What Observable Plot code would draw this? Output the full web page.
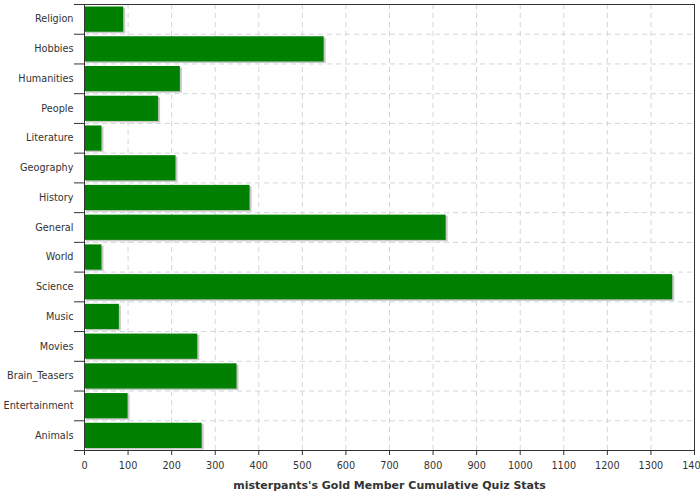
<!DOCTYPE html>
<html>
<head>
<meta charset="utf-8">
<script src="https://cdn.jsdelivr.net/npm/d3@7"></script>
<script src="https://cdn.jsdelivr.net/npm/@observablehq/plot@0.6"></script>
<style>
  html, body { margin: 0; padding: 0; background: white; }
</style>
</head>
<body>
<div id="chart"></div>
<script>
const categories = ["Religion", "Hobbies", "Humanities", "People", "Literature", "Geography", "History", "General", "World", "Science", "Music", "Movies", "Brain_Teasers", "Entertainment", "Animals"];
const values = [90, 550, 220, 170, 40, 210, 380, 830, 40, 1350, 80, 260, 350, 100, 270];
const xTicks = [0, 100, 200, 300, 400, 500, 600, 700, 800, 900, 1000, 1100, 1200, 1300, 1400];
const title = "misterpants's Gold Member Cumulative Quiz Stats";

const data = categories.map((c, i) => ({category: c, value: values[i], i}));
const n = categories.length;
const boundaries = d3.range(n + 1);
const centers = d3.range(n).map(i => i + 0.5);

const gridColor = "#cfd7dc";
const axisColor = "#333";

const chart = Plot.plot({
  width: 700,
  height: 500,
  marginLeft: 84,
  marginRight: 6,
  marginTop: 4,
  marginBottom: 50,
  style: {fontFamily: "DejaVu Sans", fontSize: "9.7px", color: "#333", background: "white"},
  x: {domain: [0, 1400]},
  y: {domain: [0, n], reverse: true},
  marks: [
    Plot.gridX(xTicks, {stroke: gridColor, strokeOpacity: 1, strokeDasharray: "5,4"}),
    Plot.gridY(boundaries, {stroke: gridColor, strokeOpacity: 1, strokeDasharray: "5,4"}),
    Plot.rect(data, {x1: 0, x2: "value", y1: "i", y2: d => d.i + 1, insetTop: 2.5, insetBottom: 2, fill: "#c8c8c8", dx: 2, dy: 1.5}),
    Plot.rect(data, {x1: 0, x2: "value", y1: "i", y2: d => d.i + 1, insetTop: 2.5, insetBottom: 2, fill: "#008000"}),
    Plot.frame({stroke: axisColor}),
    Plot.axisX({ticks: xTicks, tickSize: 5, tickPadding: 7, tickFormat: d => String(d), label: null, stroke: axisColor}),
    Plot.axisY({ticks: boundaries, tickSize: 10, text: null, label: null, stroke: axisColor}),
    Plot.axisY({ticks: centers, tickSize: 0, tickPadding: 11, tickFormat: v => categories[Math.floor(v)], label: null}),
    Plot.text([title], {frameAnchor: "bottom", dy: 35, lineAnchor: "middle", fontWeight: "bold", fontSize: 11, fill: "#333"})
  ]
});
document.getElementById("chart").appendChild(chart);
</script>
</body>
</html>
